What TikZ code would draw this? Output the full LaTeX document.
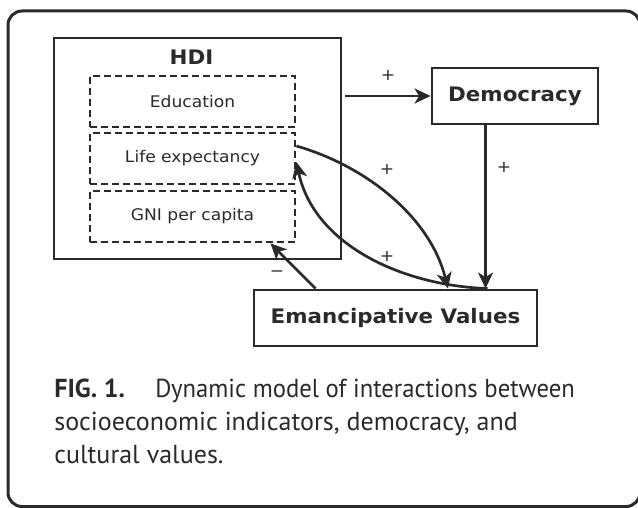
\documentclass[tikz,border=0pt]{standalone}
\usepackage{fontspec}
\usepackage{tikz}
\usetikzlibrary{arrows.meta}

\newfontfamily\diafont[FakeStretch=1.07]{DejaVu Sans}
\newfontfamily\capfont{PT Sans}
\newfontfamily\capfontn[FakeStretch=0.95]{PT Sans}
\definecolor{ink}{HTML}{2A2A2A}

\begin{document}
\begin{tikzpicture}[x=1pt, y=-1pt, color=ink, line width=2.7pt,
  box/.style={draw, rectangle, line width=2.9pt, inner sep=0pt},
  part/.style={draw, rectangle, line width=2.8pt, dash pattern=on 7pt off 4pt, inner sep=0pt,
    minimum width=205pt, minimum height=51pt, font=\diafont\fontsize{16}{19}\selectfont},
  head/.style={font=\diafont\bfseries\fontsize{20}{24}\selectfont},
  sign/.style={inner sep=0pt, font=\diafont\fontsize{16}{18}\selectfont},
  caption/.style={anchor=base west, inner sep=0pt, font=\capfont\fontsize{26}{30}\selectfont},
  arr/.style={-{Stealth[length=16pt, width=15pt, inset=4.5pt]}}]
\useasboundingbox (0,0) rectangle (638,508);
\draw[line width=3pt, rounded corners=14pt] (8,11) rectangle (640,506.5);

\node[box, minimum width=287pt, minimum height=221pt] (hdi) at (197.5,148.5) {};
\node[head] (hdilabel) at (191.5,57) {HDI};
\node[part] (edu) at (192.5,101.5) {Education};
\node[part] (life) at (192.5,158.5) {Life expectancy};
\node[part] (gni) at (192.5,216.5) {GNI per capita};
\node[box, head, minimum width=166pt, minimum height=56pt] (dem) at (515,96) {Democracy};
\node[box, head, minimum width=283pt, minimum height=56pt] (eman) at (395.5,318) {Emancipative Values};

\coordinate (demfoot) at ([xshift=55pt]dem.south west);
\coordinate (hdiout) at (hdi.east |- dem.west);

\draw[arr, shorten <=3pt] (hdiout) -- (dem.west);
\draw[arr] (demfoot) -- (demfoot |- eman.north);
\draw[arr] ([yshift=12.5pt]life.east) to[out=-16, in=104, looseness=0.9] ([xshift=52.5pt]eman.north);
\draw[arr] ([xshift=92pt]eman.north) to[out=178, in=-78, looseness=0.95] ([yshift=-3.5pt]life.east);
\draw[arr] ([xshift=-80pt]eman.north) -- ([xshift=78pt]gni.south);

\node[sign] (plusdem) at (388,75) {+};
\node[sign] (plusval) at (504,167) {+};
\node[sign] (plusup) at (387,169) {+};
\node[sign] (pluslow) at (387,256) {+};
\node[sign] (minus) at (277,274) {−};

\node[caption, font=\capfont\bfseries\fontsize{26}{30}\selectfont] (fig) at (53,397) {FIG. 1.};
\node[caption, font=\capfontn\fontsize{26}{30}\selectfont] (cap1) at (154,397) {Dynamic model of interactions between};
\node[caption] (cap2) at (53,430) {socioeconomic indicators, democracy, and};
\node[caption] (cap3) at (53,463) {cultural values.};
\end{tikzpicture}
\end{document}
